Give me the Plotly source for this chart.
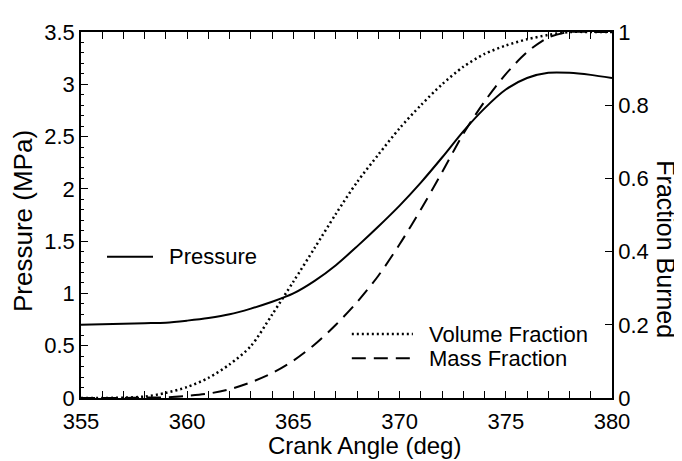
import plotly.graph_objects as go

crank_angle = [355, 356, 357, 358, 359, 360, 361, 362, 363, 364, 365, 366, 367,
               368, 369, 370, 371, 372, 373, 374, 375, 376, 377, 378, 379, 380]
pressure = [0.70, 0.705, 0.71, 0.715, 0.72, 0.74, 0.765, 0.80, 0.855, 0.92, 1.00,
            1.12, 1.27, 1.45, 1.64, 1.84, 2.06, 2.30, 2.55, 2.77, 2.95, 3.06,
            3.11, 3.11, 3.09, 3.06]
volume_fraction = [0.0, 0.0, 0.001, 0.004, 0.014, 0.030, 0.055, 0.092, 0.142, 0.228,
                   0.318, 0.41, 0.503, 0.59, 0.665, 0.737, 0.80, 0.857, 0.905, 0.94,
                   0.963, 0.98, 0.992, 1.0, 1.0, 1.0]
mass_fraction = [0.0, 0.0, 0.0, 0.001, 0.002, 0.006, 0.012, 0.024, 0.043, 0.068,
                 0.102, 0.146, 0.200, 0.262, 0.334, 0.42, 0.515, 0.617, 0.722, 0.81,
                 0.885, 0.945, 0.985, 1.0, 1.0, 1.0]

FONT = "Liberation Sans, Arial, Helvetica, sans-serif"
DOT = "2px,3px"
DASH = "14px,8px"

fig = go.Figure()
fig.add_trace(go.Scatter(x=crank_angle, y=pressure, mode="lines", name="Pressure",
                         line=dict(color="black", width=2, shape="spline", smoothing=0.8),
                         yaxis="y"))
fig.add_trace(go.Scatter(x=crank_angle, y=volume_fraction, mode="lines", name="Volume Fraction",
                         line=dict(color="black", width=2.5, dash=DOT, shape="spline", smoothing=0.8),
                         yaxis="y2"))
fig.add_trace(go.Scatter(x=crank_angle, y=mass_fraction, mode="lines", name="Mass Fraction",
                         line=dict(color="black", width=2, dash=DASH, shape="spline", smoothing=0.8),
                         yaxis="y2"))

axis_common = dict(showgrid=False, zeroline=False, showline=True, linecolor="black",
                   linewidth=1.5, ticks="inside", tickcolor="black", tickwidth=1,
                   tickfont=dict(family=FONT, size=22, color="black"))

# page body adds an 8px margin, so the figure is 8px smaller and margins shifted
fig.update_layout(
    width=674, height=453,
    margin=dict(l=73, r=70, t=12, b=63),
    paper_bgcolor="white", plot_bgcolor="white",
    showlegend=False,
    font=dict(family=FONT, size=22, color="black"),
    xaxis=dict(range=[355, 380], dtick=5, ticklen=7, mirror="allticks", ticklabelstandoff=3,
               minor=dict(dtick=1, ticks="inside", ticklen=3, tickcolor="black"),
               **axis_common),
    yaxis=dict(range=[0, 3.5], dtick=0.5, ticklen=7,
               minor=dict(dtick=0.1, ticks="inside", ticklen=3, tickcolor="black"),
               **axis_common),
    yaxis2=dict(range=[0, 1], dtick=0.2, ticklen=7, overlaying="y", side="right",
                **axis_common),
)

# axis titles
fig.add_annotation(text="Crank Angle (deg)", xref="paper", yref="paper", x=0.533, y=-0.1296,
                   xanchor="center", yanchor="middle", showarrow=False,
                   font=dict(family=FONT, size=24, color="black"))
fig.add_annotation(text="Pressure (MPa)", xref="paper", yref="paper", x=-0.109, y=0.484,
                   xanchor="center", yanchor="middle", textangle=-90, showarrow=False,
                   font=dict(family=FONT, size=26, color="black"))
fig.add_annotation(text="Fraction Burned", xref="paper", yref="paper", x=1.1, y=0.406,
                   xanchor="center", yanchor="middle", textangle=90, showarrow=False,
                   font=dict(family=FONT, size=25, color="black"))

# legend samples and labels
legend_items = [
    ("Pressure", 0.049, 0.1356, 0.162, 0.386, None, 2),
    ("Volume Fraction", 0.510, 0.625, 0.652, 0.1746, DOT, 2.5),
    ("Mass Fraction", 0.510, 0.625, 0.652, 0.1085, DASH, 2),
]
for label, x0, x1, xt, yy, dash, w in legend_items:
    line = dict(color="black", width=w)
    if dash:
        line["dash"] = dash
    fig.add_shape(type="line", xref="paper", yref="paper", x0=x0, x1=x1, y0=yy, y1=yy, line=line)
    fig.add_annotation(text=label, xref="paper", yref="paper", x=xt, y=yy, xanchor="left",
                       yanchor="middle", showarrow=False,
                       font=dict(family=FONT, size=22, color="black"))

fig.write_html("out.html")
